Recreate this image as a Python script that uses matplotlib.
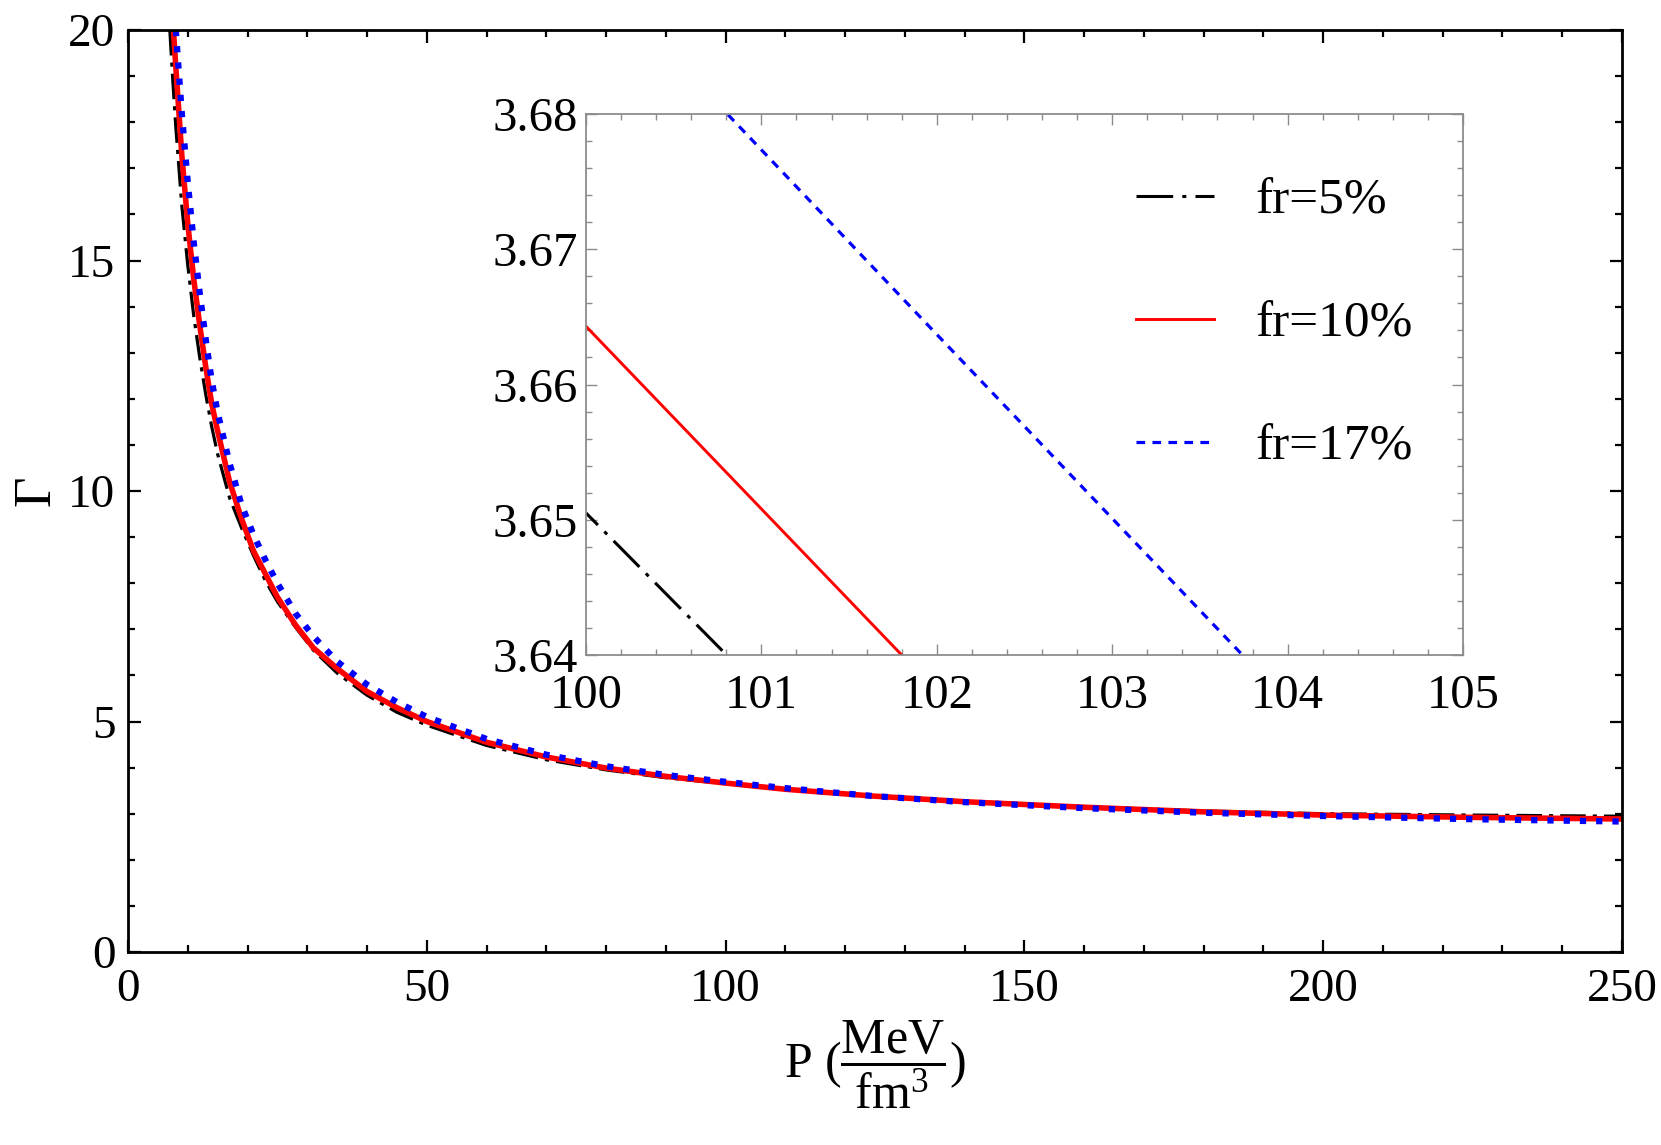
import matplotlib
matplotlib.use("Agg")
import matplotlib.pyplot as plt
from matplotlib.ticker import MultipleLocator

plt.rcParams['font.family'] = ['Liberation Serif', 'DejaVu Serif']
plt.rcParams['mathtext.fontset'] = 'custom'
plt.rcParams['mathtext.rm'] = 'Liberation Serif'
plt.rcParams['mathtext.it'] = 'Liberation Serif:italic'

# ---- data ----
P_black = [7.0, 7.5, 8, 9, 10, 11, 12, 13, 14, 15, 17, 19, 21, 23, 25, 28, 31, 35, 40, 45,
           50, 60, 70, 80, 90, 100, 102, 104, 110, 125, 140, 160, 180, 200, 225, 250]
G_black = [20.0, 18.9, 17.9, 16.2, 14.9, 13.8, 12.9, 12.1, 11.4, 10.8, 9.85, 9.2, 8.6, 8.05, 7.6,
           7.05, 6.55, 6.05, 5.57, 5.2, 4.92, 4.48, 4.17, 3.95, 3.78, 3.6505, 3.6243, 3.598,
           3.525, 3.39, 3.27, 3.15, 3.06, 3.0, 2.97, 2.945]

P_red = [7.6, 8, 9, 10, 11, 12, 13, 14, 15, 17, 19, 21, 23, 25, 28, 31, 35, 40, 45,
         50, 60, 70, 80, 90, 100, 102, 104, 110, 125, 140, 160, 180, 200, 225, 250]
G_red = [20.0, 19.2, 17.3, 15.8, 14.6, 13.6, 12.7, 11.9, 11.3, 10.2, 9.4, 8.7, 8.2, 7.7,
         7.1, 6.6, 6.15, 5.65, 5.3, 5.0, 4.55, 4.23, 3.99, 3.81, 3.6643, 3.6373, 3.6105,
         3.53, 3.38, 3.26, 3.14, 3.04, 2.97, 2.92, 2.885]

P_blue = [8.0, 8.5, 9, 10, 11, 12, 13, 14, 15, 17, 19, 21, 23, 25, 28, 31, 35, 40, 45,
          50, 60, 70, 80, 90, 100, 102, 104, 110, 125, 140, 160, 180, 200, 225, 250]
G_blue = [20.0, 19.1, 18.2, 16.7, 15.4, 14.3, 13.3, 12.4, 11.7, 10.6, 9.7, 9.05, 8.5, 8.0,
          7.35, 6.85, 6.3, 5.8, 5.42, 5.1, 4.62, 4.28, 4.03, 3.84, 3.691, 3.6637, 3.6365,
          3.555, 3.38, 3.25, 3.12, 3.02, 2.95, 2.88, 2.83]

labels = ['fr=5%', 'fr=10%', 'fr=17%']
x_ticks_main = [0, 50, 100, 150, 200, 250]
y_ticks_main = [0, 5, 10, 15, 20]
x_ticks_inset = [100, 101, 102, 103, 104, 105]
y_ticks_inset = [3.64, 3.65, 3.66, 3.67, 3.68]

W, H = 1661, 1145
fig = plt.figure(figsize=(W / 100, H / 100), dpi=100)
ax = fig.add_axes([128 / W, 1 - 952 / H, 1494 / W, 922 / H])

ax.plot(P_black, G_black, color='black', lw=2.3, dashes=(8, 2.2, 1.3, 2.2))
ax.plot(P_red, G_red, color='#ff0000', lw=4.0, solid_capstyle='butt')
ax.plot(P_blue, G_blue, color='#0000ff', lw=4.5, dashes=(1.0, 1.6), dash_capstyle='butt')

ax.set_xlim(0, 250)
ax.set_ylim(0, 20)
ax.set_xticks(x_ticks_main)
ax.set_yticks(y_ticks_main)
ax.xaxis.set_minor_locator(MultipleLocator(10))
ax.yaxis.set_minor_locator(MultipleLocator(1))
ax.tick_params(which='both', direction='in', top=True, right=True, labelsize=34, width=1.6)
ax.tick_params(which='major', length=9, pad=12)
ax.tick_params(which='minor', length=5)
ax.tick_params(axis='y', which='major', pad=9)
for s in ax.spines.values():
    s.set_linewidth(2.0)
ax.set_xlabel(r'P ($\dfrac{\mathrm{MeV}}{\mathrm{fm}^3}$)', fontsize=36)
ax.xaxis.set_label_coords(0.5, -0.072)
ax.set_ylabel('Γ', fontsize=38)
ax.yaxis.set_label_coords(-0.045, 0.5)

# ---- inset ----
ins = fig.add_axes([586 / W, 1 - 655 / H, 877 / W, 541 / H])
gray = '#8c8c8c'
l1, = ins.plot(P_black, G_black, color='black', lw=2.2, dashes=(12, 3, 1.3, 3))
l2, = ins.plot(P_red, G_red, color='#ff0000', lw=2.1)
l3, = ins.plot(P_blue, G_blue, color='#0000ff', lw=2.3, dashes=(2.7, 2.3))
ins.set_xlim(100, 105)
ins.set_ylim(3.64, 3.68)
ins.set_xticks(x_ticks_inset)
ins.set_yticks(y_ticks_inset)
ins.set_yticklabels([f'{v:.2f}' for v in y_ticks_inset])
ins.xaxis.set_minor_locator(MultipleLocator(0.2))
ins.yaxis.set_minor_locator(MultipleLocator(0.002))
ins.tick_params(which='both', direction='in', top=True, right=True, labelsize=35,
                color=gray, width=1.0)
ins.tick_params(which='major', length=8)
ins.tick_params(which='minor', length=4)
ins.tick_params(axis='x', which='major', pad=14)
ins.tick_params(axis='y', which='major', pad=6)
for s in ins.spines.values():
    s.set_linewidth(1.3)
    s.set_color(gray)

ins.legend([l1, l2, l3], labels, loc='upper left', bbox_to_anchor=(0.627, 0.882),
           frameon=False, fontsize=37, handlelength=1.52, handletextpad=0.81,
           labelspacing=1.48, borderpad=0, borderaxespad=0)

fig.savefig('out.png', dpi=100)
